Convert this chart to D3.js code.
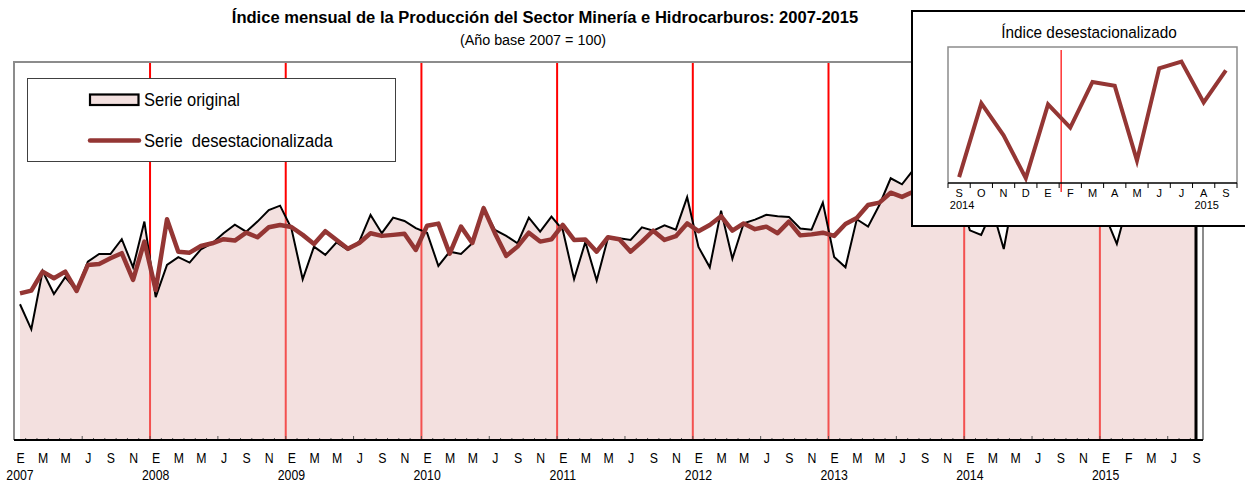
<!DOCTYPE html>
<html>
<head>
<meta charset="utf-8">
<script src="https://cdn.jsdelivr.net/npm/d3@7"></script>
<style>
  body { margin: 0; background: #fff; }
  svg { display: block; font-family: "Liberation Sans", Arial, sans-serif; }
</style>
</head>
<body>
<svg id="chart" width="1245" height="484"></svg>
<script>
// Indice mensual, enero 2007 - septiembre 2015
var serieOriginal = [
  80.8, 65.9, 100.6, 86.9, 96.9, 88.9, 106.2, 110.7, 110.7, 119.5, 102.8, 130.0,
  85.0, 104.2, 108.8, 105.6, 113.5, 117.1, 123.1, 128.2, 124.0, 130.0, 136.9, 139.5,
  126.0, 95.7, 115.1, 110.2, 117.6, 113.1, 118.1, 134.0, 123.1, 132.4, 130.4, 126.1,
  123.3, 103.6, 112.1, 110.7, 117.1, 138.0, 125.0, 121.5, 117.1, 132.4, 124.0, 133.0,
  125.0, 95.7, 117.9, 94.9, 120.4, 120.1, 119.1, 126.6, 124.6, 127.8, 125.2, 144.5,
  114.9, 102.8, 136.5, 107.9, 129.0, 131.2, 134.0, 133.2, 132.8, 125.9, 125.2, 141.3,
  109.0, 102.8, 131.4, 127.0, 139.9, 155.8, 152.2, 160.8, 163.0, 165.0, 160.0, 148.0,
  124.8, 122.1, 137.0, 113.7, 150.0, 158.0, 162.0, 165.0, 160.0, 163.0, 158.0, 150.0,
  133.0, 116.7, 142.0, 145.0, 150.0, 158.0, 162.0, 156.0, 160.0
];
var serieDesest = [
  87.3, 88.9, 100.2, 96.3, 100.2, 88.7, 104.2, 104.8, 108.2, 111.2, 95.3, 118.1,
  89.3, 131.4, 112.1, 111.5, 115.5, 117.1, 119.5, 118.7, 123.4, 120.7, 126.6, 128.0,
  126.8, 122.1, 116.7, 124.3, 119.1, 113.8, 117.3, 123.1, 121.5, 122.1, 122.8, 113.1,
  127.5, 128.8, 110.9, 127.0, 117.3, 138.0, 123.1, 109.6, 115.1, 123.4, 118.1, 119.4,
  128.0, 119.1, 119.3, 112.1, 120.7, 119.5, 112.1, 118.1, 124.6, 119.1, 121.3, 128.9,
  124.3, 128.0, 133.2, 124.6, 128.9, 125.5, 127.0, 123.1, 130.0, 121.8, 122.4, 123.4,
  121.5, 128.6, 132.2, 139.9, 141.3, 147.2, 144.7, 147.8, 150.5, 152.0, 149.5, 151.0,
  150.0, 152.5, 151.5, 150.0, 153.0, 152.0, 153.5, 151.5, 146.6, 154.2, 150.9, 146.5,
  154.1, 151.7, 156.4, 156.0, 148.3, 157.8, 158.5, 154.3, 157.6
];
var etiquetasMes = [
  "E","M","M","J","S","N", "E","M","M","J","S","N", "E","M","M","J","S","N",
  "E","M","M","J","S","N", "E","M","M","J","S","N", "E","M","M","J","S","N",
  "E","M","M","J","S","N", "E","M","M","J","S","N", "E","F","M","J","S"
];
var anios = ["2007","2008","2009","2010","2011","2012","2013","2014","2015"];
var mesesInset = ["S","O","N","D","E","F","M","A","M","J","J","A","S"];
var aniosInset = [{pos: 0, txt: "2014"}, {pos: 11, txt: "2015"}];

var colorDesest = "#943634";
var NARROW = 0.82; // Arial Narrow ~ Arial comprimida

var svg = d3.select("#chart");

var mLeft = 14, mRight = 1203, mTop = 62, mBottom = 440;
var n = serieOriginal.length;

var x = d3.scalePoint().domain(d3.range(n)).range([20, 1196]);
var step = x.step();
var y = d3.scaleLinear().domain([0, 225]).range([mBottom, mTop]);

function narrowText(parent, tx, ty, size, txt, sx) {
  return parent.append("text")
    .attr("transform", "translate(" + tx + "," + ty + ") scale(" + (sx || NARROW) + ",1)")
    .attr("font-size", size)
    .text(txt);
}

// titulo
narrowText(svg, 545, 23, 17, "Índice mensual de la Producción del Sector Minería e Hidrocarburos: 2007-2015", 0.975)
  .attr("text-anchor", "middle").attr("font-weight", "bold");
narrowText(svg, 533, 45, 14.5, "(Año base 2007 = 100)", 0.99)
  .attr("text-anchor", "middle");

// lineas de año
var cortes = d3.range(12, n, 12);
svg.append("g").selectAll("line")
  .data(cortes)
  .enter().append("line")
  .attr("x1", d => x(d) - step / 2).attr("x2", d => x(d) - step / 2)
  .attr("y1", mTop).attr("y2", mBottom)
  .attr("stroke", "#ff0000").attr("stroke-width", 2);

// area serie original
var area = d3.area()
  .x((d, i) => x(i))
  .y0(mBottom)
  .y1(d => y(d));
svg.append("path")
  .datum(serieOriginal)
  .attr("d", area)
  .attr("fill", "rgb(228,184,182)").attr("fill-opacity", 0.44);

// marco
svg.append("path")
  .attr("d", "M" + mLeft + "," + mBottom + "V" + mTop + "H" + mRight + "V" + mBottom)
  .attr("fill", "none").attr("stroke", "#8c8c8c").attr("stroke-width", 2);

svg.append("path")
  .datum(serieOriginal)
  .attr("d", d3.line().x((d, i) => x(i)).y(d => y(d)))
  .attr("fill", "none").attr("stroke", "#000").attr("stroke-width", 2)
  .attr("stroke-linejoin", "miter");
svg.append("line")
  .attr("x1", x(n - 1)).attr("x2", x(n - 1))
  .attr("y1", y(serieOriginal[n - 1])).attr("y2", mBottom)
  .attr("stroke", "#000").attr("stroke-width", 3);

svg.append("path")
  .datum(serieDesest)
  .attr("d", d3.line().x((d, i) => x(i)).y(d => y(d)))
  .attr("fill", "none").attr("stroke", colorDesest).attr("stroke-width", 4.5)
  .attr("stroke-linejoin", "round");

// eje x
svg.append("g").selectAll("line")
  .data(d3.range(1, n))
  .enter().append("line")
  .attr("x1", d => x(d) - step / 2).attr("x2", d => x(d) - step / 2)
  .attr("y1", mBottom).attr("y2", d => d % 6 == 0 ? mBottom - 4 : mBottom - 2)
  .attr("stroke", "#555").attr("stroke-width", 1);
svg.append("line")
  .attr("x1", mLeft).attr("x2", mRight)
  .attr("y1", mBottom).attr("y2", mBottom)
  .attr("stroke", "#000").attr("stroke-width", 2);

var ejeMes = d3.axisBottom(x)
  .tickValues(d3.range(0, n, 2))
  .tickFormat((d, i) => etiquetasMes[i])
  .tickSize(0).tickPadding(12);
var gMes = svg.append("g").attr("transform", "translate(0," + mBottom + ")").call(ejeMes);
gMes.select(".domain").remove();
gMes.attr("font-family", null);
gMes.selectAll("text")
  .attr("font-size", 15).attr("fill", "#000")
  .attr("transform", "scale(" + NARROW + ",1)");

svg.append("g").selectAll("text")
  .data(anios)
  .enter().append("text")
  .attr("transform", (d, i) => "translate(" + x(i * 12) + ",480) scale(" + NARROW + ",1)")
  .attr("text-anchor", "middle")
  .attr("font-size", 15)
  .text(d => d);

// leyenda
var leg = svg.append("g");
leg.append("rect")
  .attr("x", 27.5).attr("y", 78.5).attr("width", 368).attr("height", 83)
  .attr("fill", "#fff").attr("stroke", "#404040").attr("stroke-width", 1);
leg.append("rect")
  .attr("x", 90).attr("y", 94.5).attr("width", 48.5).attr("height", 10.5)
  .attr("fill", "#f3e0df").attr("stroke", "#000").attr("stroke-width", 2.2);
leg.append("line")
  .attr("x1", 90).attr("x2", 139).attr("y1", 140.5).attr("y2", 140.5)
  .attr("stroke", colorDesest).attr("stroke-width", 4.5).attr("stroke-linecap", "round");
narrowText(leg, 144, 106, 18.5, "Serie original", 0.89);
narrowText(leg, 144, 147, 18.5, "Serie  desestacionalizada", 0.895)
  .style("white-space", "pre");

// recuadro: indice desestacionalizado ultimo año
var desestInset = serieDesest.slice(-mesesInset.length);
var ins = svg.append("g");
ins.append("rect")
  .attr("x", 912).attr("y", 11).attr("width", 340).attr("height", 215)
  .attr("fill", "#fff").attr("stroke", "#000").attr("stroke-width", 2);
narrowText(ins, 1089, 38, 16.5, "Índice desestacionalizado", 0.93)
  .attr("text-anchor", "middle");

var xi = d3.scaleBand().domain(d3.range(mesesInset.length)).range([948, 1237]);
var yi = d3.scaleLinear().domain([146, 160]).range([183, 47]);

ins.append("path")
  .attr("d", "M948,183V47H1237V183")
  .attr("fill", "none").attr("stroke", "#8c8c8c").attr("stroke-width", 1.5);

ins.append("line")
  .attr("x1", xi(5) + 2).attr("x2", xi(5) + 2)
  .attr("y1", 50).attr("y2", 192)
  .attr("stroke", "#ff0000").attr("stroke-width", 1.2);

ins.append("path")
  .datum(desestInset)
  .attr("d", d3.line().x((d, i) => xi(i) + xi.bandwidth() / 2).y(d => yi(d)))
  .attr("fill", "none").attr("stroke", colorDesest).attr("stroke-width", 4)
  .attr("stroke-linejoin", "miter");

ins.append("g").selectAll("line")
  .data(d3.range(mesesInset.length + 1))
  .enter().append("line")
  .attr("x1", d => 948 + d * xi.step()).attr("x2", d => 948 + d * xi.step())
  .attr("y1", 183).attr("y2", 188)
  .attr("stroke", "#000").attr("stroke-width", 1);
ins.append("line")
  .attr("x1", 948).attr("x2", 1237).attr("y1", 183).attr("y2", 183)
  .attr("stroke", "#000").attr("stroke-width", 1.5);

var ejeInset = d3.axisBottom(xi)
  .tickFormat((d, i) => mesesInset[i])
  .tickSize(0).tickPadding(6);
var gIns = ins.append("g").attr("transform", "translate(0,183)").call(ejeInset);
gIns.select(".domain").remove();
gIns.attr("font-family", null);
gIns.selectAll("text")
  .attr("font-size", 11).attr("fill", "#000");

ins.append("g").selectAll("text")
  .data(aniosInset)
  .enter().append("text")
  .attr("x", d => xi(d.pos) + xi.bandwidth() / 2 + 3)
  .attr("y", 209)
  .attr("text-anchor", "middle")
  .attr("font-size", 11)
  .text(d => d.txt);
</script>
</body>
</html>
